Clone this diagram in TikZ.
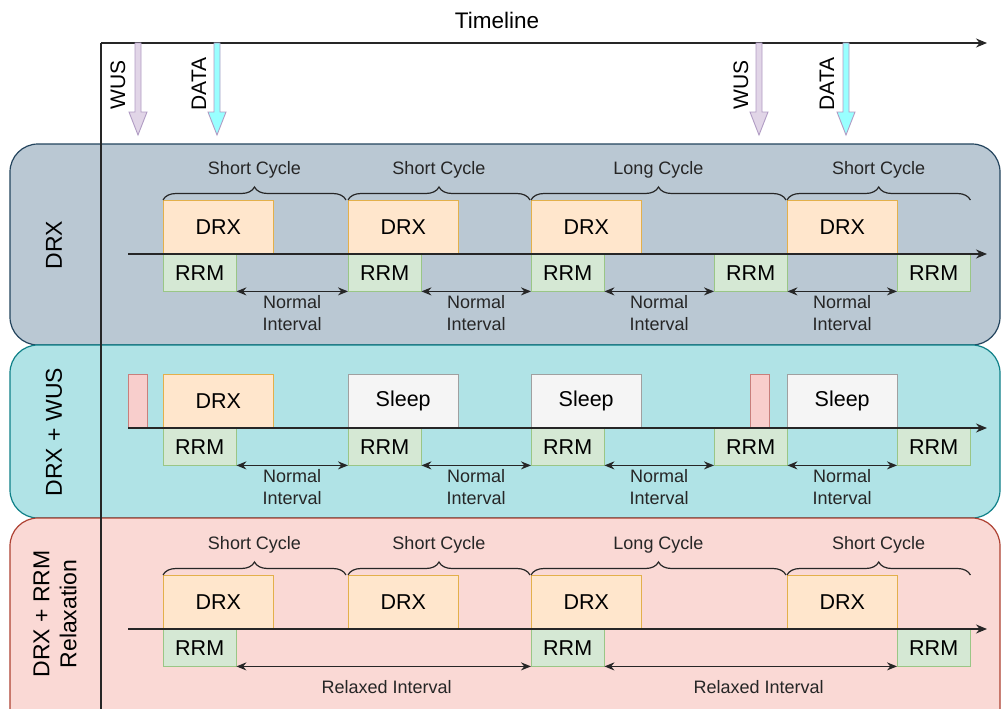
\documentclass[tikz,border=0pt]{standalone}
\usepackage{fontspec}
\setmainfont{Liberation Sans}
\usepackage{tikz}
\usetikzlibrary{arrows.meta,decorations.pathreplacing,positioning}

\definecolor{drxfill}{HTML}{FFE6CC}
\definecolor{drxline}{HTML}{E3B04B}
\definecolor{rrmfill}{HTML}{D5E8D4}
\definecolor{rrmline}{HTML}{9AC686}
\definecolor{sleepfill}{HTML}{F5F5F5}
\definecolor{sleepline}{HTML}{A0A0A0}
\definecolor{wusfill}{HTML}{F8CECC}
\definecolor{wusline}{HTML}{C87F7C}
\definecolor{sigwus}{HTML}{E1D5E7}
\definecolor{sigdata}{HTML}{99FFFF}
\definecolor{sigline}{HTML}{B19CC4}
\definecolor{panelA}{HTML}{BAC8D3}
\definecolor{panelAline}{HTML}{23445D}
\definecolor{panelB}{HTML}{B0E3E6}
\definecolor{panelBline}{HTML}{0E8088}
\definecolor{panelC}{HTML}{FAD9D5}
\definecolor{panelCline}{HTML}{AE4132}

\tikzset{
  drxbox/.style={draw=drxline, fill=drxfill, anchor=north west, inner sep=0pt,
    minimum width=110pt, minimum height=54pt, font=\fontsize{21.5}{24}\selectfont},
  sleepbox/.style={drxbox, draw=sleepline, fill=sleepfill},
  wusbox/.style={draw=wusline, fill=wusfill, anchor=north west, inner sep=0pt,
    minimum width=19pt, minimum height=54pt},
  rrmbox/.style={draw=rrmline, fill=rrmfill, anchor=north west, inner sep=0pt,
    minimum width=73pt, minimum height=37pt, font=\fontsize{21.5}{24}\selectfont},
  panel/.style={line width=1.2pt, rounded corners=28pt},
  axis/.style={line width=1.4pt, black!85, -{Stealth[length=11pt,width=9pt]}},
  interval/.style={line width=1.3pt, black!85, {Stealth[length=10pt,width=8pt]}-{Stealth[length=10pt,width=8pt]}},
  cycle/.style={line width=1.2pt, black!85, decorate, decoration={brace, amplitude=13pt}},
  smalltext/.style={font=\fontsize{18}{22}\selectfont, align=center, text=black!85},
  rowlabel/.style={font=\fontsize{23}{27}\selectfont, align=center, rotate=90},
  siglabel/.style={font=\fontsize{21}{24}\selectfont, rotate=90},
}

% block arrow for a signal: x position, fill colour
\newcommand{\sigarrow}[2]{%
  \filldraw [fill=#2, draw=sigline, line width=0.9pt]
    ({#1-3},43) -- ({#1+3},43) -- ({#1+3},112) -- ({#1+9},112) -- (#1,135)
    -- ({#1-9},112) -- ({#1-3},112) -- cycle;
}

\begin{document}
\begin{tikzpicture}[x=1pt, y=-1pt]

        \clip (0,0) rectangle (1002,709);
        \fill [white] (0,0) rectangle (1002,709);

        %Timeline
        \node [font=\fontsize{22.5}{26}\selectfont] (tl) at (497,20) {Timeline};
        \draw [axis] (101,43) -- (987,43);
        %Signals
        \sigarrow{138}{sigwus}
        \sigarrow{217}{sigdata}
        \sigarrow{759}{sigwus}
        \sigarrow{846}{sigdata}
        \node [siglabel] (wus1)  at (118,85) {WUS};
        \node [siglabel] (data1) at (199,84) {DATA};
        \node [siglabel] (wus2)  at (741,85) {WUS};
        \node [siglabel] (data2) at (827,84) {DATA};

        %Panels
        \draw [panel, draw=panelAline, fill=panelA] (10,144) rectangle (1000,345);
        \draw [panel, draw=panelBline, fill=panelB] (10,345) rectangle (1000,518);
        \draw [panel, draw=panelCline, fill=panelC] (10,518) rectangle (1000,740);
        \node [rowlabel] (lab1) at (54,245) {DRX};
        \node [rowlabel] (lab2) at (54,432) {DRX + WUS};
        \node [rowlabel] (lab3) at (55,614) {DRX + RRM\\Relaxation};
        \draw [line width=1.4pt, black!85] (101,43) -- (101,709);

        %DRX
        \node [drxbox] (d11) at (163,200) {DRX};
        \node [drxbox] (d12) at (348,200) {DRX};
        \node [drxbox] (d13) at (531,200) {DRX};
        \node [drxbox] (d14) at (787,200) {DRX};
        \node [rrmbox] (r11) at (163,254) {RRM};
        \node [rrmbox] (r12) at (348,254) {RRM};
        \node [rrmbox] (r13) at (531,254) {RRM};
        \node [rrmbox] (r14) at (714,254) {RRM};
        \node [rrmbox] (r15) at (897,254) {RRM};
        \draw [axis] (128,254) -- (987,254);
        \draw [cycle] (d11.north west) -- node [smalltext, above=18pt] {Short Cycle} ([xshift=-2pt]d12.north west);
        \draw [cycle] (d12.north west) -- node [smalltext, above=18pt] {Short Cycle} ([xshift=-1pt]d13.north west);
        \draw [cycle] (d13.north west) -- node [smalltext, above=18pt] {Long Cycle}  ([xshift=-1pt]d14.north west);
        \draw [cycle] (d14.north west) -- node [smalltext, above=18pt] {Short Cycle} (r15.north east |- d14.north);
        \draw [interval] (r11.south east) -- node [smalltext, below] {Normal\\Interval} (r12.south west);
        \draw [interval] (r12.south east) -- node [smalltext, below] {Normal\\Interval} (r13.south west);
        \draw [interval] (r13.south east) -- node [smalltext, below] {Normal\\Interval} (r14.south west);
        \draw [interval] (r14.south east) -- node [smalltext, below] {Normal\\Interval} (r15.south west);

        %DRX + WUS
        \node [wusbox]   (w21) at (128,374) {};
        \node [drxbox]   (d21) at (163,374) {DRX};
        \node [sleepbox] (s22) at (348,374) {Sleep};
        \node [sleepbox] (s23) at (531,374) {Sleep};
        \node [wusbox]   (w24) at (750,374) {};
        \node [sleepbox] (s24) at (787,374) {Sleep};
        \node [rrmbox] (r21) at (163,428) {RRM};
        \node [rrmbox] (r22) at (348,428) {RRM};
        \node [rrmbox] (r23) at (531,428) {RRM};
        \node [rrmbox] (r24) at (714,428) {RRM};
        \node [rrmbox] (r25) at (897,428) {RRM};
        \draw [axis] (128,428) -- (987,428);
        \draw [interval] (r21.south east) -- node [smalltext, below] {Normal\\Interval} (r22.south west);
        \draw [interval] (r22.south east) -- node [smalltext, below] {Normal\\Interval} (r23.south west);
        \draw [interval] (r23.south east) -- node [smalltext, below] {Normal\\Interval} (r24.south west);
        \draw [interval] (r24.south east) -- node [smalltext, below] {Normal\\Interval} (r25.south west);

        %DRX + RRM Relaxation
        \node [drxbox] (d31) at (163,575) {DRX};
        \node [drxbox] (d32) at (348,575) {DRX};
        \node [drxbox] (d33) at (531,575) {DRX};
        \node [drxbox] (d34) at (787,575) {DRX};
        \node [rrmbox] (r31) at (163,629) {RRM};
        \node [rrmbox] (r32) at (531,629) {RRM};
        \node [rrmbox] (r33) at (897,629) {RRM};
        \draw [axis] (128,629) -- (987,629);
        \draw [cycle] (d31.north west) -- node [smalltext, above=18pt] {Short Cycle} ([xshift=-2pt]d32.north west);
        \draw [cycle] (d32.north west) -- node [smalltext, above=18pt] {Short Cycle} ([xshift=-1pt]d33.north west);
        \draw [cycle] (d33.north west) -- node [smalltext, above=18pt] {Long Cycle}  ([xshift=-1pt]d34.north west);
        \draw [cycle] (d34.north west) -- node [smalltext, above=18pt] {Short Cycle} (r33.north east |- d34.north);
        \draw [interval] (r31.south east) -- node [smalltext, below=10pt, xshift=3pt] {Relaxed Interval} (r32.south west);
        \draw [interval] (r32.south east) -- node [smalltext, below=10pt, xshift=8pt] {Relaxed Interval} (r33.south west);

\end{tikzpicture}
\end{document}
